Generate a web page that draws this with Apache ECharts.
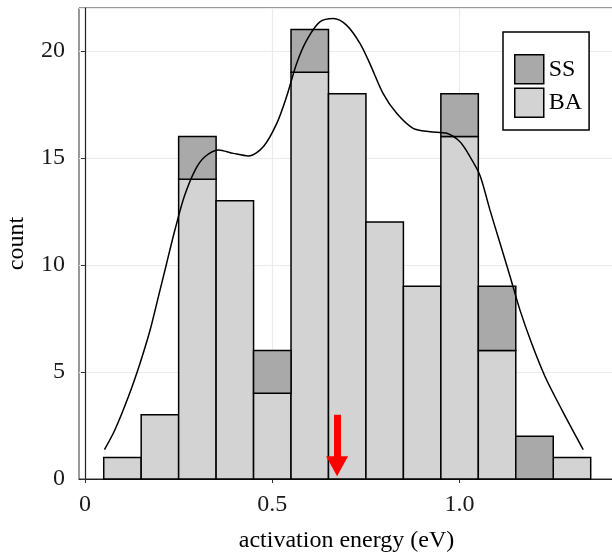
<!DOCTYPE html>
<html>
<head>
<meta charset="utf-8">
<script src="https://cdn.jsdelivr.net/npm/echarts@6/dist/echarts.min.js"></script>
<style>
html, body { margin: 0; padding: 0; background: #fff; }
#chart { width: 612px; height: 555px; }
</style>
</head>
<body>
<div id="chart"></div>
<script>
// histogram bins (centre of each 0.1 eV bin)
const binCenters = [0.1, 0.2, 0.3, 0.4, 0.5, 0.6, 0.7, 0.8, 0.9, 1.0, 1.1, 1.2, 1.3];
const baCounts = [1, 3, 14, 13, 4, 19, 18, 12, 9, 16, 6, 0, 1];
const ssCounts = [0, 0, 2, 0, 2, 2, 0, 0, 0, 2, 3, 2, 0];
const binWidth = 0.1;

// density curve (scaled to counts)
const densityX = [0.052, 0.080, 0.116, 0.147, 0.174, 0.196, 0.218, 0.240, 0.265, 0.294, 0.320, 0.356,
    0.396, 0.436, 0.476, 0.512, 0.538, 0.565, 0.592, 0.627, 0.663, 0.698, 0.734, 0.761,
    0.796, 0.832, 0.876, 0.921, 0.966, 1.001, 1.028, 1.054, 1.081, 1.108, 1.135, 1.161,
    1.192, 1.228, 1.273, 1.330];
const densityY = [1.37, 2.30, 3.85, 5.41, 6.97, 8.52, 10.08, 11.63, 13.19, 14.43, 15.05, 15.37,
    15.21, 15.09, 15.52, 16.61, 17.85, 19.41, 20.5, 21.35, 21.51, 21.2, 20.35, 19.38,
    18.0, 17.08, 16.38, 16.22, 16.15, 15.75, 15.05, 14.2, 12.57, 11.01, 9.45, 7.9,
    6.35, 4.79, 3.23, 1.37];

const xTicks = [0, 0.5, 1.0];
// red arrow: x position, tail and head (count units)
const arrowX = 0.673;
const arrowFrom = 3.0;
const arrowTo = 0.6;

const serif = '"Liberation Serif", "DejaVu Serif", serif';

const baData = binCenters.map((c, i) => [c, 0, baCounts[i]]);
const ssData = binCenters.map((c, i) => [c, baCounts[i], baCounts[i] + ssCounts[i]]);

function renderBin(params, api) {
    const lo = api.value(1), hi = api.value(2);
    if (hi <= lo) return null;
    const c = api.value(0);
    const p0 = api.coord([c - binWidth / 2, lo]);
    const p1 = api.coord([c + binWidth / 2, hi]);
    return {
        type: 'rect',
        shape: { x: p0[0], y: p1[1], width: p1[0] - p0[0], height: p0[1] - p1[1] },
        style: { fill: api.visual('color'), stroke: '#000', lineWidth: 1.5 }
    };
}

const chart = echarts.init(document.getElementById('chart'));
chart.setOption({
    animation: false,
    backgroundColor: '#fff',
    grid: {
        left: 79, right: -2, top: 8, bottom: 76,
        outerBoundsMode: 'none',
        show: true, borderColor: '#333', borderWidth: 1
    },
    legend: {
        data: [
            { name: 'SS', itemStyle: { color: '#a9a9a9', borderColor: '#000', borderWidth: 1.5 } },
            { name: 'BA', itemStyle: { color: '#d3d3d3', borderColor: '#000', borderWidth: 1.5 } }
        ],
        orient: 'vertical',
        left: 503,
        top: 32,
        icon: 'rect',
        itemWidth: 29,
        itemHeight: 29,
        itemGap: 3,
        padding: [22, 7, 12, 11],
        borderColor: '#000',
        borderWidth: 1.5,
        backgroundColor: '#fff',
        selectedMode: false,
        textStyle: { fontFamily: serif, fontSize: 24, color: '#000', lineHeight: 29 }
    },
    xAxis: {
        type: 'value',
        min: -0.016,
        max: 1.4122,
        name: 'activation energy (eV)',
        nameLocation: 'middle',
        nameGap: 50,
        nameTextStyle: { fontFamily: serif, fontSize: 24, color: '#000' },
        axisLine: { lineStyle: { color: '#222', width: 1.2 } },
        axisTick: { customValues: xTicks, length: 4, lineStyle: { color: '#333' } },
        axisLabel: {
            customValues: xTicks,
            margin: 14,
            fontFamily: serif, fontSize: 24, color: '#1a1a1a',
            formatter: v => (v === 0 ? '0' : v.toFixed(1))
        },
        splitLine: { show: true, lineStyle: { color: '#ebebeb', width: 1.2 } }
    },
    yAxis: {
        type: 'value',
        min: 0,
        max: 22,
        interval: 5,
        name: 'count',
        nameLocation: 'middle',
        nameGap: 50,
        nameTextStyle: { fontFamily: serif, fontSize: 24, color: '#000' },
        axisLine: { show: true, lineStyle: { color: '#222', width: 1.2 } },
        axisTick: { show: true, length: 4, lineStyle: { color: '#333' } },
        axisLabel: { margin: 14, fontFamily: serif, fontSize: 24, color: '#1a1a1a', showMaxLabel: false },
        splitLine: { show: true, lineStyle: { color: '#ebebeb', width: 1.2 } }
    },
    series: [
        {
            name: 'BA',
            type: 'custom',
            renderItem: renderBin,
            itemStyle: { color: '#d3d3d3' },
            encode: { x: 0, y: [1, 2] },
            data: baData,
            z: 2
        },
        {
            name: 'SS',
            type: 'custom',
            renderItem: renderBin,
            itemStyle: { color: '#a9a9a9' },
            encode: { x: 0, y: [1, 2] },
            data: ssData,
            z: 2
        },
        {
            name: 'density',
            type: 'line',
            smooth: 0.3,
            showSymbol: false,
            lineStyle: { color: '#000', width: 1.5 },
            data: densityX.map((x, i) => [x, densityY[i]]),
            z: 3
        },
        {
            name: 'arrow',
            type: 'line',
            data: [],
            markLine: {
                silent: true,
                symbol: ['none', 'triangle'],
                symbolSize: [22, 20],
                label: { show: false },
                lineStyle: { color: '#ff0000', width: 7, type: 'solid' },
                data: [[{ coord: [arrowX, arrowFrom] }, { coord: [arrowX, arrowTo] }]]
            },
            z: 4
        }
    ]
});
</script>
</body>
</html>
